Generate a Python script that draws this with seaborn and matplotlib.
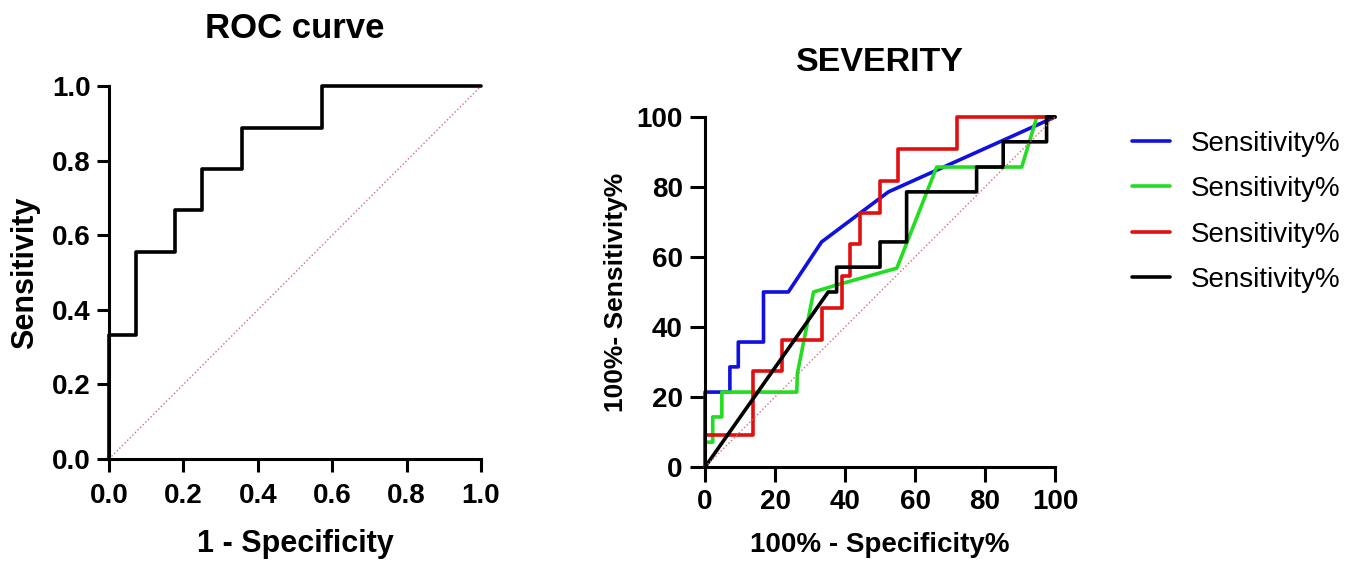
import matplotlib
matplotlib.use("Agg")
import matplotlib.pyplot as plt
import seaborn as sns
import pandas as pd

# ---------data------------------------------------------------------------------
# left panel: ROC curve (fraction)
roc_fpr = [0, 0, 0.0714, 0.0714, 0.1786, 0.1786, 0.25, 0.25, 0.3571, 0.3571, 0.5714, 0.5714, 1.0]
roc_tpr = [0, 0.3333, 0.3333, 0.5556, 0.5556, 0.6667, 0.6667, 0.7778, 0.7778, 0.8889, 0.8889, 1.0, 1.0]

# right panel: SEVERITY (percent)
blue_x = [0, 0, 7.1, 7.1, 9.5, 9.5, 16.7, 16.7, 23.8, 33.3, 52.4, 100]
blue_y = [0, 21.4, 21.4, 28.6, 28.6, 35.7, 35.7, 50, 50, 64.3, 78.6, 100]

green_x = [0, 0, 2.2, 2.2, 4.8, 4.8, 26.2, 26.4, 31, 37.6, 54.8, 66.2, 90.5, 94.8, 100]
green_y = [0, 7.1, 7.1, 14.3, 14.3, 21.4, 21.4, 26.8, 50, 52, 56.8, 85.7, 85.7, 100, 100]

red_x = [0, 0, 13.8, 13.8, 21.9, 21.9, 33.3, 33.3, 39, 39, 41.4, 41.4, 44.3, 44.3,
         50, 50, 55.2, 55.2, 71.9, 71.9, 100]
red_y = [0, 9.1, 9.1, 27.3, 27.3, 36.4, 36.4, 45.5, 45.5, 54.5, 54.5, 63.6, 63.6, 72.7,
         72.7, 81.8, 81.8, 90.9, 90.9, 100, 100]

black_x = [0, 35.2, 37.6, 37.6, 50, 50, 57.6, 57.6, 77.6, 77.6, 85.2, 85.2, 97.6, 97.6, 100]
black_y = [0, 50, 50, 57.1, 57.1, 64.3, 64.3, 78.6, 78.6, 85.7, 85.7, 92.9, 92.9, 100, 100]

series_names = ["Sensitivity%", "Sensitivity%", "Sensitivity%", "Sensitivity%"]
series_colors = ["#1010e0", "#22dd22", "#e01010", "#000000"]

left_ticks = [0.0, 0.2, 0.4, 0.6, 0.8, 1.0]
right_ticks = [0, 20, 40, 60, 80, 100]

# ---------style------------------------------------------------------------------
sns.set_style("ticks")
plt.rcParams["font.family"] = ["Liberation Sans", "DejaVu Sans"]
plt.rcParams["text.color"] = "black"
plt.rcParams["axes.labelcolor"] = "black"
plt.rcParams["axes.linewidth"] = 2.2
plt.rcParams["xtick.major.width"] = 2.2
plt.rcParams["ytick.major.width"] = 2.2
plt.rcParams["xtick.color"] = "black"
plt.rcParams["ytick.color"] = "black"
plt.rcParams["axes.edgecolor"] = "black"

fig = plt.figure(figsize=(13.59, 5.64), dpi=100)
ax1 = fig.add_axes([0.0802, 0.1862, 0.2737, 0.661])
ax2 = fig.add_axes([0.5188, 0.172, 0.2575, 0.6206])

# ---------left: ROC curve---------------------------------------------------------
roc = pd.DataFrame({"fpr": roc_fpr, "tpr": roc_tpr})
sns.lineplot(data=roc, x="fpr", y="tpr", sort=False, estimator=None, color="black",
             linewidth=2.6, ax=ax1, clip_on=False)
ax1.plot([0, 1], [0, 1], color="#d07070", linestyle=":", linewidth=1.0)
ax1.set_xlim(0, 1)
ax1.set_ylim(0, 1)
ax1.set_xticks(left_ticks)
ax1.set_yticks(left_ticks)
ax1.set_xticklabels([f"{t:.1f}" for t in left_ticks])
ax1.set_yticklabels([f"{t:.1f}" for t in left_ticks])
ax1.tick_params(labelsize=20, length=9)
ax1.tick_params(axis="x", pad=8.5)
ax1.tick_params(axis="y", pad=4)
for lab in ax1.get_xticklabels() + ax1.get_yticklabels():
    lab.set_fontweight("bold")
ax1.set_xlabel("1 - Specificity", fontsize=22, fontweight="bold", labelpad=14)
ax1.set_ylabel("Sensitivity", fontsize=22, fontweight="bold", labelpad=9)
sns.despine(ax=ax1)
fig.text(0.217, 0.950, "ROC curve", ha="center", va="center", fontsize=25, fontweight="bold")

# ---------right: SEVERITY---------------------------------------------------------
frames = []
for i, (xs, ys) in enumerate([(blue_x, blue_y), (green_x, green_y), (red_x, red_y), (black_x, black_y)]):
    frames.append(pd.DataFrame({"x": xs, "y": ys, "series": i}))
sev = pd.concat(frames, ignore_index=True)

for i in range(4):
    sub = sev[sev["series"] == i]
    sns.lineplot(data=sub, x="x", y="y", sort=False, estimator=None,
                 color=series_colors[i], linewidth=2.6, ax=ax2,
                 label=series_names[i], clip_on=False)
ax2.plot([0, 100], [0, 100], color="#d07070", linestyle=":", linewidth=1.0)
ax2.set_xlim(0, 100)
ax2.set_ylim(0, 100)
ax2.set_xticks(right_ticks)
ax2.set_yticks(right_ticks)
ax2.tick_params(labelsize=20, length=11)
ax2.tick_params(axis="x", pad=5)
ax2.tick_params(axis="y", pad=5)
for lab in ax2.get_xticklabels() + ax2.get_yticklabels():
    lab.set_fontweight("bold")
ax2.set_xlabel("100% - Specificity%", fontsize=20, fontweight="bold", labelpad=12)
ax2.set_ylabel("100%- Sensitivity%", fontsize=19, fontweight="bold", labelpad=6)
sns.despine(ax=ax2)
fig.text(0.6475, 0.890, "SEVERITY", ha="center", va="center", fontsize=24.5, fontweight="bold")

ax2.legend(loc="upper left", bbox_to_anchor=(1.15, 1.032), frameon=False, fontsize=20,
           handlelength=1.35, handletextpad=0.75, labelspacing=0.7)

fig.savefig("out.png", dpi=100)
